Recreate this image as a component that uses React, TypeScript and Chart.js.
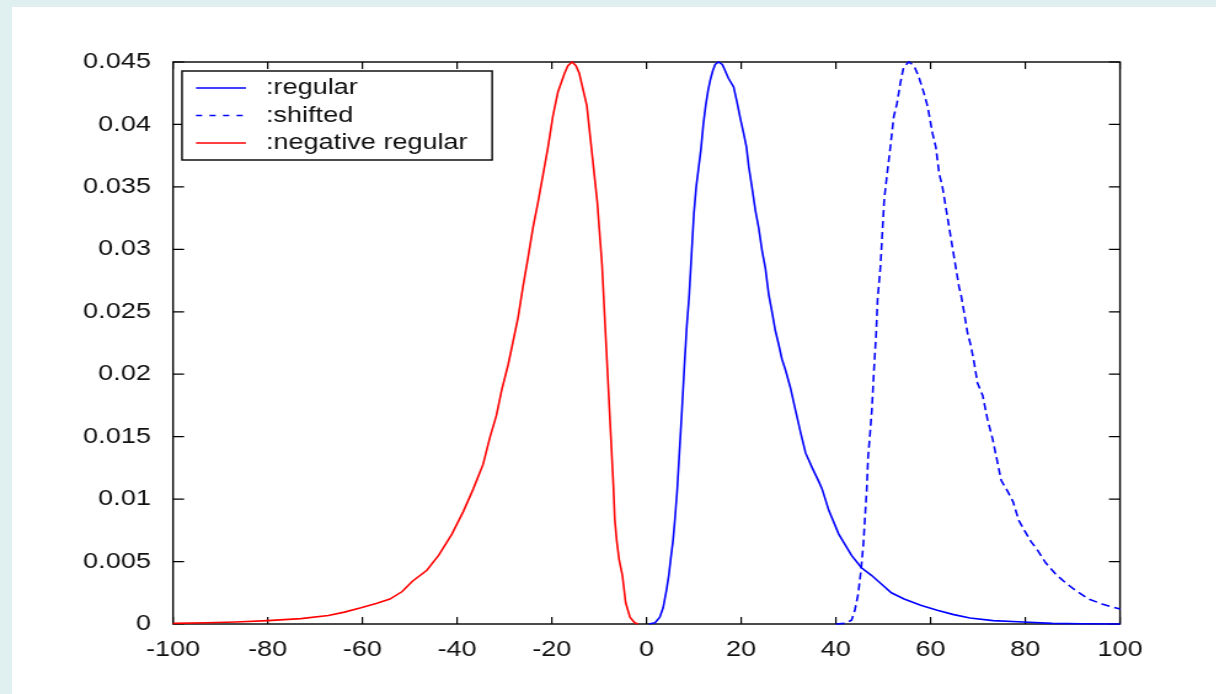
import React, { useEffect, useRef } from 'react';
import { Chart, registerables } from 'chart.js';

Chart.register(...registerables);

// page is a horizontally stretched MATLAB figure: draw narrower, stretch by K
const K = 1.23;
const PAGE_W = 1216;
const PAGE_H = 694;
const CW = Math.round(PAGE_W / K);

const X_TICKS = [-100, -80, -60, -40, -20, 0, 20, 40, 60, 80, 100];
const X_TICK_LABELS = ['-100', '-80', '-60', '-40', '-20', '0', '20', '40', '60', '80', '100'];
const Y_TICKS = [0, 0.005, 0.01, 0.015, 0.02, 0.025, 0.03, 0.035, 0.04, 0.045];
const Y_TICK_LABELS = ['0', '0.005', '0.01', '0.015', '0.02', '0.025', '0.03', '0.035', '0.04', '0.045'];

const SERIES_LABELS = [':regular', ':shifted', ':negative regular'];

const regularX = [0.5, 1.8, 2.8, 3.5, 4.2, 4.7, 5.1, 5.6, 6.0, 6.5, 7.0, 7.5, 8.0, 8.5, 9.0, 9.5, 10.0, 10.5, 11.0, 11.5, 12.0, 12.5, 13.0, 13.5, 14.0, 14.5, 15.2, 16.0, 16.5, 17.3, 18.4, 19.1, 19.8, 20.5, 21.1, 21.6, 22.3, 23.0, 23.7, 24.4, 25.1, 25.8, 26.5, 27.2, 27.9, 28.6, 29.3, 30.4, 31.4, 32.5, 33.6, 35.0, 36.4, 37.1, 38.5, 40.6, 43.3, 45.4, 47.5, 49.6, 51.7, 54.4, 57.9, 61.4, 64.9, 68.3, 73.2, 79.6, 85.7, 92.0, 100];
const regularY = [0, 0.0001, 0.00054, 0.0013, 0.0027, 0.0039, 0.0052, 0.0067, 0.0084, 0.0108, 0.0140, 0.0172, 0.0206, 0.0238, 0.0262, 0.0295, 0.0328, 0.0350, 0.0365, 0.0380, 0.0400, 0.0415, 0.0427, 0.0436, 0.0443, 0.0448, 0.0450, 0.0448, 0.0444, 0.0437, 0.0430, 0.0418, 0.0405, 0.0393, 0.0382, 0.0366, 0.0349, 0.0331, 0.0317, 0.0299, 0.0285, 0.0264, 0.0250, 0.0235, 0.0224, 0.0212, 0.0204, 0.0189, 0.0172, 0.0154, 0.0137, 0.0125, 0.0114, 0.0108, 0.0091, 0.0072, 0.0055, 0.0045, 0.0039, 0.0032, 0.0025, 0.0020, 0.0015, 0.0011, 0.00075, 0.00048, 0.00027, 0.00016, 0.00005, 0.00002, 0];

const shiftedX = [40.0, 41.9, 43.3, 44.0, 44.7, 45.3, 45.8, 46.1, 46.5, 46.8, 47.2, 47.6, 48.0, 48.5, 48.8, 49.4, 49.8, 50.2, 50.8, 51.5, 52.2, 52.9, 53.6, 54.3, 55.4, 56.5, 57.5, 58.6, 59.4, 60.4, 61.1, 61.8, 62.5, 63.2, 63.9, 64.6, 65.3, 66.0, 66.4, 67.1, 67.8, 68.5, 69.2, 69.9, 71.0, 72.0, 73.1, 74.2, 74.9, 76.3, 77.4, 78.6, 79.8, 81.2, 82.6, 84.3, 86.4, 88.5, 90.6, 93.4, 96.2, 99.0, 100];
const shiftedY = [0, 0.00005, 0.0003, 0.0011, 0.0024, 0.0043, 0.0064, 0.0083, 0.0107, 0.0134, 0.0152, 0.0172, 0.0201, 0.0233, 0.0260, 0.0286, 0.0313, 0.0340, 0.0360, 0.0382, 0.0406, 0.0417, 0.0433, 0.0446, 0.0450, 0.0447, 0.0438, 0.0425, 0.0414, 0.0393, 0.0382, 0.0361, 0.0350, 0.0334, 0.0318, 0.0302, 0.0286, 0.0270, 0.0264, 0.0249, 0.0233, 0.0223, 0.0209, 0.0193, 0.0183, 0.0164, 0.0148, 0.0128, 0.0115, 0.0106, 0.0098, 0.0083, 0.0075, 0.0066, 0.0059, 0.0049, 0.0040, 0.0033, 0.0027, 0.0020, 0.0016, 0.0013, 0.0012];

const negativeX = [-100, -93, -86.8, -80, -73, -67.2, -63.8, -60.3, -57.1, -54.2, -51.6, -49.5, -46.4, -43.9, -41.1, -38.7, -36.6, -34.5, -33.1, -31.7, -30.6, -29.2, -28.2, -27.1, -26.1, -25.0, -24.0, -22.9, -21.9, -20.8, -19.8, -18.7, -17.3, -16.6, -15.7, -14.9, -14.2, -12.6, -11.4, -10.4, -9.4, -8.6, -7.8, -7.0, -6.7, -6.3, -5.8, -5.1, -4.4, -3.5, -2.5, -1.8];
const negativeY = [0.00005, 0.0001, 0.00016, 0.00027, 0.00043, 0.00068, 0.00095, 0.0013, 0.00165, 0.0020, 0.0026, 0.0034, 0.0043, 0.0055, 0.0072, 0.0090, 0.0108, 0.0128, 0.0149, 0.0167, 0.0187, 0.0208, 0.0226, 0.0246, 0.0270, 0.0294, 0.0317, 0.0338, 0.0359, 0.0382, 0.0406, 0.0426, 0.0441, 0.0447, 0.0450, 0.0447, 0.0441, 0.0415, 0.0373, 0.0338, 0.0288, 0.0229, 0.0170, 0.0111, 0.0084, 0.0067, 0.0052, 0.0039, 0.0017, 0.00054, 0.0001, 0];

const FONT_FAMILY = '"Liberation Sans", Arial, sans-serif';
const TEXT_COLOR = '#111';

const pts = (xs: number[], ys: number[]) => xs.map((x, i) => ({ x, y: ys[i] }));

const framePlugin = {
  id: 'matlabFrame',
  beforeDatasetsDraw(chart: any) {
    const { ctx, chartArea: a, scales } = chart;
    ctx.save();
    ctx.strokeStyle = '#000';
    ctx.lineWidth = 1.4;
    ctx.strokeRect(a.left, a.top, a.right - a.left, a.bottom - a.top);
    ctx.lineWidth = 1.2;
    ctx.beginPath();
    for (const t of scales.x.ticks) {
      const px = scales.x.getPixelForValue(t.value);
      ctx.moveTo(px, a.bottom);
      ctx.lineTo(px, a.bottom - 7);
      ctx.moveTo(px, a.top);
      ctx.lineTo(px, a.top + 7);
    }
    for (const t of scales.y.ticks) {
      const py = scales.y.getPixelForValue(t.value);
      ctx.moveTo(a.left, py);
      ctx.lineTo(a.left + 9, py);
      ctx.moveTo(a.right, py);
      ctx.lineTo(a.right - 9, py);
    }
    ctx.stroke();
    ctx.restore();
  },
};

const legendPlugin = {
  id: 'matlabLegend',
  afterDraw(chart: any) {
    const { ctx, chartArea: a } = chart;
    const ds = chart.data.datasets;
    ctx.save();
    ctx.font = `22px ${FONT_FAMILY}`;
    const left = a.left + 7.3;
    const top = a.top + 9;
    const rowH = 27.5;
    const textX = 68.3;
    const maxW = Math.max(...ds.map((d: any) => ctx.measureText(d.label).width));
    const w = textX + maxW + 20;
    const h = 17 * 2 + rowH * (ds.length - 1);
    ctx.fillStyle = '#fff';
    ctx.fillRect(left, top, w, h);
    ctx.strokeStyle = '#000';
    ctx.lineWidth = 1.4;
    ctx.strokeRect(left, top, w, h);
    ds.forEach((d: any, i: number) => {
      const y = top + 17 + i * rowH;
      ctx.beginPath();
      ctx.setLineDash(d.borderDash && d.borderDash.length ? [5, 6] : []);
      ctx.strokeStyle = d.borderColor;
      ctx.lineWidth = 1.6;
      ctx.moveTo(left + 11.4, y);
      ctx.lineTo(left + 52, y);
      ctx.stroke();
      ctx.setLineDash([]);
      ctx.fillStyle = TEXT_COLOR;
      ctx.textBaseline = 'middle';
      ctx.textAlign = 'left';
      ctx.fillText(d.label, left + textX, y);
    });
    ctx.restore();
  },
};

export default function App() {
  const ref = useRef<HTMLCanvasElement | null>(null);

  useEffect(() => {
    if (!ref.current) return;
    const plotLeft = 173 / K;
    const plotRight = 1120 / K;
    const chart = new Chart(ref.current, {
      type: 'scatter',
      data: {
        datasets: [
          {
            label: SERIES_LABELS[0],
            data: pts(regularX, regularY),
            showLine: true,
            borderColor: '#0000ff',
            borderWidth: 1.6,
            pointRadius: 0,
            clip: false,
          },
          {
            label: SERIES_LABELS[1],
            data: pts(shiftedX, shiftedY),
            showLine: true,
            borderColor: '#0000ff',
            borderDash: [7, 4],
            borderWidth: 1.6,
            pointRadius: 0,
            clip: false,
          },
          {
            label: SERIES_LABELS[2],
            data: pts(negativeX, negativeY),
            showLine: true,
            borderColor: '#ff0000',
            borderWidth: 1.6,
            pointRadius: 0,
            clip: false,
          },
        ] as any,
      },
      options: {
        animation: false,
        responsive: true,
        maintainAspectRatio: false,
        events: [],
        layout: {
          autoPadding: false,
          padding: { left: 0, top: 62, right: CW - plotRight, bottom: 0 },
        } as any,
        plugins: {
          legend: { display: false },
          tooltip: { enabled: false },
        },
        scales: {
          x: {
            type: 'linear',
            min: -100,
            max: 100,
            grid: { display: false },
            border: { display: false },
            afterBuildTicks: (s: any) => {
              s.ticks = X_TICKS.map((v) => ({ value: v }));
            },
            afterFit: (s: any) => {
              s.height = 70;
              s.paddingLeft = 0;
              s.paddingRight = 0;
            },
            ticks: {
              callback: (_v: any, i: number) => X_TICK_LABELS[i],
              color: TEXT_COLOR,
              font: { family: FONT_FAMILY, size: 22 },
              padding: 5,
              maxRotation: 0,
              minRotation: 0,
              autoSkip: false,
            },
          },
          y: {
            type: 'linear',
            min: 0,
            max: 0.045,
            grid: { display: false },
            border: { display: false },
            afterBuildTicks: (s: any) => {
              s.ticks = Y_TICKS.map((v) => ({ value: v }));
            },
            afterFit: (s: any) => {
              s.width = plotLeft;
              s.paddingTop = 0;
              s.paddingBottom = 0;
            },
            ticks: {
              callback: (_v: any, i: number) => Y_TICK_LABELS[i],
              color: TEXT_COLOR,
              font: { family: FONT_FAMILY, size: 22 },
              padding: 10,
              autoSkip: false,
            },
          },
        } as any,
      },
      plugins: [framePlugin, legendPlugin],
    });
    return () => chart.destroy();
  }, []);

  return (
    <div style={{ position: 'fixed', left: 0, top: 0, width: PAGE_W, height: PAGE_H, background: '#e0f0f0', overflow: 'hidden' }}>
      <div style={{ position: 'absolute', left: 12, top: 7, right: 0, bottom: 0, background: '#ffffff' }} />
      <div
        style={{
          position: 'absolute',
          left: 0,
          top: 0,
          width: CW,
          height: PAGE_H,
          transform: `scaleX(${K})`,
          transformOrigin: '0 0',
        }}
      >
        <canvas ref={ref} />
      </div>
    </div>
  );
}
